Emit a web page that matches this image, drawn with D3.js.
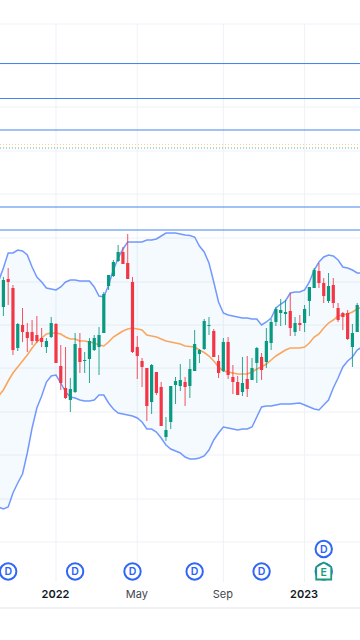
<!DOCTYPE html>
<html>
<head>
<meta charset="utf-8">
<script src="https://cdn.jsdelivr.net/npm/d3@7"></script>
<style>
    html, body { margin: 0; padding: 0; background: #fff; overflow: hidden; }
    svg { display: block; }
    .tick text { font-family: Inter, "Noto Sans", sans-serif; font-size: 11px; }
</style>
</head>
<body>
<svg id="chart"></svg>
<script>
const openPrices = [166.5,180.5,176,146,157.5,154,154,152.5,151,146.5,151.5,158,137,126,120,124,146,139.5,140.5,145,146.5,153.5,177,182,189.5,194,188.5,179,146.5,139.5,136,119,134,126.5,101.5,109,127.5,127,129,127,134.5,143,145.5,157,154.5,139.5,134.5,149,131.5,129,124,130.5,130,138.5,141.5,139,148.5,159,163.5,163,164.5,154,158.5,158.5,169.5,176,184.5,178.5,169.5,177.5,166,163.5,163.5,146.5,154];
const highPrices = [181.5,186,177.5,158.5,166,158.5,160,162,156,151,161.5,158.5,147.5,146.5,131,153.5,153.5,144,151,152.5,156.5,174,182.5,190,197.5,196.5,203,181.5,152,141,136,138,134,129,111.5,127,131.5,138,131.5,140.5,155,145.5,160.5,161.5,155.5,142.5,151,151.5,137.5,132,141.5,142,141,146.5,143.5,156,160.5,166.5,170.5,170,173.5,161.5,162.5,167.5,176.5,186,188.5,181,183.5,181,168.5,164,165,158,168.5];
const lowPrices = [162,167.5,142.5,144.5,149,144,147.5,148.5,146.5,143.5,151,138.5,125,120.5,114,123.5,133.5,133.5,128.5,144.5,132.5,153.5,175,181.5,189,188,180.5,143.5,130.5,126.5,109.5,113,122.5,107,99.5,105.5,118,124.5,117,121,134.5,138.5,145,152.5,141.5,131,134,130.5,123,122.5,122,121.5,130,128.5,130,136,145,157,157,157.5,152,152,154.5,154,162,176,176,168.5,168.5,166,159,155,150,136.5,154];
const closePrices = [180,179,145,158,154,151,149.5,149.5,149,149.5,158.5,138.5,128.5,121,125.5,148,139,140,149.5,151,152.5,173,182.5,189,194,188,180.5,144,142,136.5,117,137.5,123.5,107,105,127,129.5,130,126.5,135.5,148,145,159.5,157.5,141.5,133.5,149,132.5,129,122.5,128.5,125.5,136,146,135,149.5,159,165.5,165,164,156,158.5,157.5,165.5,176.5,185,178.5,172,177,168.5,160,161.5,150.5,153.5,167.5];

// bands run one bar past each edge of the window, index -1 to 75
const upperBand = [179.5,186,193.5,193.5,195,194.5,192.5,186.5,181.5,179,176,175.5,175,176.5,179,180,180,179.5,179.5,179.5,176.5,172,171.5,177.5,185,191,195.5,199,199,199,199,200,200,200.5,202,203.5,203.5,203.5,203,202.5,202.25,201.5,197,194,188.5,179,169,163.5,162.5,162,161.5,161,161,160.5,160.5,157.5,159,161,166,168,169.5,173.5,174,174,175,179,185,189,191.5,192.5,192,190,186.5,186,185,183.5,183.5];
const lowerBand = [66.5,65.5,66.5,73.5,78.5,83,93.5,106,116,122,129,132,132.5,128.5,124,121.5,121,120,119.5,119.5,120,122.5,122.5,118.5,115.5,113.5,113,112.5,112,111,109,105.5,105.5,104,101,97.5,95.5,94.5,93.5,91.5,90.5,90.5,91,92,95,100,103.5,106.5,106,105.5,105,105.5,105.5,106.5,111.5,116.5,117,117,117.5,118,118,118,118.25,118.5,117.5,116.5,115.5,115,117.5,120,126,131,136.5,139.5,141.5,145,146.5];
const basisBand = [122,125,129.5,133.5,136.5,139.5,142.5,146,149,151,153,153.5,153.5,153,151.5,150.5,150.5,149.5,149.5,149,148.5,147.5,147,149,151.5,153,154.5,155.5,156,155.5,155,152.5,152,151.5,150.5,149.5,149,148.5,148,147,146.75,146.5,145,143.75,142,139.5,136.5,134.5,134,133.5,133,133,133,134,135.5,136.5,138,140,142,143.5,145,146,146,146,146.5,148.5,151.5,153,156,158.5,160,162,162.5,163,164,165.5,166.5];

const levelPrices = [288.25, 270.75, 255, 216.5, 205];
const avgCostPrice = 247.75;
const lastPrice = 246;

const gridPrices = [308, 288, 266.5, 244.5, 223, 201, 179, 157.5, 136, 114, 92.5, 70.5, 49];
const timeTickBars = [11, 28, 46, 63];
const timeTickLabels = ["2022", "May", "Sep", "2023"];
const boldTickLabels = ["2022", "2023"];

const dividendBars = [1, 15, 27, 40, 54, 67];
const earningsBar = 67;

const WIDTH = 360;
const HEIGHT = 640;
const AXIS_Y = 582;
const UP_COLOR = "#089981";
const DOWN_COLOR = "#F23645";
const BAND_COLOR = "#2962FF";
const GRID_COLOR = "#eef1f6";

const svg = d3.select("#chart").attr("width", WIDTH).attr("height", HEIGHT);

const xScale = d3.scaleLinear().domain([0, 74]).range([3.4, 357.2]);
const yScale = d3.scaleLinear().domain([0, 320]).range([640, 0]);

// Grid
svg.append("g").selectAll("line").data(gridPrices).join("line")
    .attr("x1", 0).attr("x2", WIDTH)
    .attr("y1", d => yScale(d)).attr("y2", d => yScale(d))
    .attr("stroke", GRID_COLOR).attr("stroke-width", 1);

svg.append("g").selectAll("line").data(timeTickBars).join("line")
    .attr("x1", d => xScale(d)).attr("x2", d => xScale(d))
    .attr("y1", yScale(gridPrices[0])).attr("y2", AXIS_Y)
    .attr("stroke", GRID_COLOR).attr("stroke-width", 1);

svg.append("rect").attr("x", 0).attr("y", 607).attr("width", WIDTH).attr("height", 2).attr("fill", GRID_COLOR);

// Horizontal levels
svg.append("g").selectAll("line").data(levelPrices).join("line")
    .attr("x1", 0).attr("x2", WIDTH)
    .attr("y1", d => yScale(d)).attr("y2", d => yScale(d))
    .attr("stroke", "#4585f2").attr("stroke-width", 1.2);

[[avgCostPrice, "#FF9800", 0.45], [lastPrice, UP_COLOR, 0.7]].forEach(([price, color, alpha]) => {
    svg.append("line")
        .attr("x1", 0).attr("x2", WIDTH)
        .attr("y1", yScale(price)).attr("y2", yScale(price))
        .attr("stroke", color).attr("stroke-width", 1)
        .attr("stroke-dasharray", "1 2").attr("opacity", alpha);
});

// Bollinger bands
const bandX = (d, i) => xScale(i - 1);
const bandArea = d3.area().x(bandX)
    .y0((d, i) => yScale(lowerBand[i]))
    .y1(d => yScale(d));
const bandLine = d3.line().x(bandX).y(d => yScale(d));

svg.append("path").datum(upperBand).attr("d", bandArea).attr("fill", "#2196F3").attr("opacity", 0.05);

[upperBand, lowerBand].forEach(values => {
    svg.append("path").datum(values).attr("d", bandLine)
        .attr("fill", "none").attr("stroke", BAND_COLOR).attr("stroke-width", 1.5).attr("opacity", 0.65);
});
svg.append("path").datum(basisBand).attr("d", bandLine)
    .attr("fill", "none").attr("stroke", "#FF8A26").attr("stroke-width", 1.6).attr("opacity", 0.75);

// Candles
const candles = svg.append("g").selectAll("g").data(openPrices).join("g");
const candleColor = (d, i) => closePrices[i] >= d ? UP_COLOR : DOWN_COLOR;

candles.append("line")
    .attr("x1", (d, i) => xScale(i)).attr("x2", (d, i) => xScale(i))
    .attr("y1", (d, i) => yScale(highPrices[i])).attr("y2", (d, i) => yScale(lowPrices[i]))
    .attr("stroke", candleColor).attr("stroke-width", 1).attr("opacity", 0.85);

candles.append("rect")
    .attr("x", (d, i) => xScale(i) - 1.6).attr("width", 3.2)
    .attr("y", (d, i) => yScale(Math.max(d, closePrices[i])))
    .attr("height", (d, i) => Math.max(1, Math.abs(yScale(d) - yScale(closePrices[i]))))
    .attr("fill", candleColor);

// Time axis
const xAxis = d3.axisBottom(xScale)
    .tickValues(timeTickBars)
    .tickFormat((d, i) => timeTickLabels[i])
    .tickSize(0)
    .tickPadding(8.5);

const xAxisGroup = svg.append("g")
    .attr("transform", `translate(0, ${AXIS_Y})`)
    .call(xAxis);
xAxisGroup.select(".domain").remove();
xAxisGroup.selectAll(".tick text")
    .attr("dx", -1)
    .attr("fill", d => boldTickLabels.includes(timeTickLabels[timeTickBars.indexOf(d)]) ? "#131722" : "#434651")
    .attr("font-weight", d => boldTickLabels.includes(timeTickLabels[timeTickBars.indexOf(d)]) ? 600 : 400);

// Dividend and earnings markers
function drawDividend(bar, cy) {
    const marker = svg.append("g").attr("transform", `translate(${xScale(bar)}, ${cy})`);
    marker.append("circle").attr("r", 8.2).attr("fill", "#fff").attr("stroke", "#2f66f5").attr("stroke-width", 2);
    marker.append("text").text("D")
        .attr("text-anchor", "middle").attr("dy", "0.36em")
        .attr("font-family", "Inter, sans-serif").attr("font-size", 10.5).attr("font-weight", 600)
        .attr("fill", BAND_COLOR);
}

dividendBars.forEach(bar => drawDividend(bar, 571.5));
drawDividend(earningsBar, 549);

const earnings = svg.append("g").attr("transform", `translate(${xScale(earningsBar)}, 571)`);
earnings.append("path")
    .attr("d", d3.line()([[0, -8.5], [7.5, -4], [7.5, 8.5], [-7.5, 8.5], [-7.5, -4]]) + "Z")
    .attr("fill", "#fff").attr("stroke", "#1a9a80").attr("stroke-width", 1.8);
earnings.append("text").text("E")
    .attr("text-anchor", "middle").attr("y", 4.5)
    .attr("font-family", "Inter, sans-serif").attr("font-size", 10.5).attr("font-weight", 600)
    .attr("fill", "#1a9a80");
</script>
</body>
</html>
